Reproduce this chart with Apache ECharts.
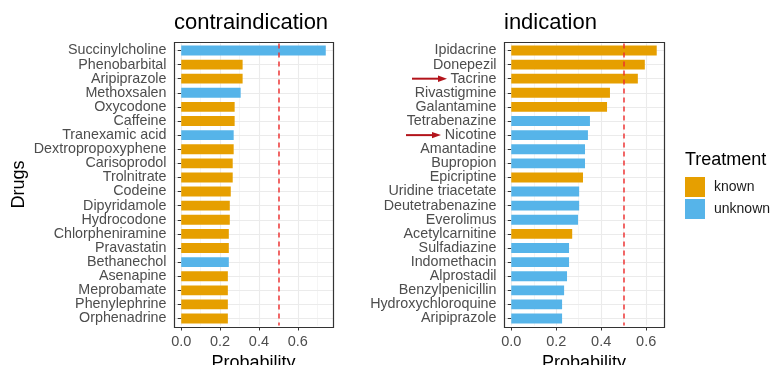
<!DOCTYPE html>
<html>
<head>
<meta charset="utf-8">
<script src="https://cdn.jsdelivr.net/npm/echarts@6/dist/echarts.min.js"></script>
<style>
  html, body { margin: 0; padding: 0; background: #ffffff; }
  #chart { width: 772px; height: 365px; }
</style>
</head>
<body>
<div id="chart"></div>
<script>
// ---- data: predicted probabilities per drug, top 20 per panel ----
const contraDrugs = ['Succinylcholine', 'Phenobarbital', 'Aripiprazole', 'Methoxsalen', 'Oxycodone',
  'Caffeine', 'Tranexamic acid', 'Dextropropoxyphene', 'Carisoprodol', 'Trolnitrate',
  'Codeine', 'Dipyridamole', 'Hydrocodone', 'Chlorpheniramine', 'Pravastatin',
  'Bethanechol', 'Asenapine', 'Meprobamate', 'Phenylephrine', 'Orphenadrine'];
const contraProb = [0.744, 0.316, 0.316, 0.306, 0.275,
  0.275, 0.270, 0.270, 0.265, 0.265,
  0.255, 0.250, 0.250, 0.245, 0.245,
  0.245, 0.240, 0.240, 0.240, 0.240];
const contraTreat = ['unknown', 'known', 'known', 'unknown', 'known',
  'known', 'unknown', 'known', 'known', 'known',
  'known', 'known', 'known', 'known', 'known',
  'unknown', 'known', 'known', 'known', 'known'];

const indDrugs = ['Ipidacrine', 'Donepezil', 'Tacrine', 'Rivastigmine', 'Galantamine',
  'Tetrabenazine', 'Nicotine', 'Amantadine', 'Bupropion', 'Epicriptine',
  'Uridine triacetate', 'Deutetrabenazine', 'Everolimus', 'Acetylcarnitine', 'Sulfadiazine',
  'Indomethacin', 'Alprostadil', 'Benzylpenicillin', 'Hydroxychloroquine', 'Aripiprazole'];
const indProb = [0.647, 0.594, 0.563, 0.439, 0.426,
  0.350, 0.341, 0.328, 0.328, 0.319,
  0.302, 0.302, 0.297, 0.271, 0.257,
  0.257, 0.248, 0.235, 0.226, 0.226];
const indTreat = ['known', 'known', 'known', 'known', 'known',
  'unknown', 'unknown', 'unknown', 'unknown', 'known',
  'unknown', 'unknown', 'unknown', 'known', 'unknown',
  'unknown', 'unknown', 'unknown', 'unknown', 'unknown'];

const treatments = ['known', 'unknown'];
const xTicks = [0, 0.2, 0.4, 0.6];
const xMinorTicks = [0.1, 0.3, 0.5, 0.7];
const threshold = 0.5;
const highlighted = ['Tacrine', 'Nicotine'];

// ---- styling ----
const FONT = 'Liberation Sans, Arial, Helvetica, sans-serif';
const COLORS = { known: '#E69F00', unknown: '#56B4E9' };
const GRID_COLOR = '#EBEBEB';
const BORDER_COLOR = '#333333';
const LABEL_COLOR = '#4D4D4D';

const PANEL_TOP = 42, PANEL_BOTTOM = 327;
const panels = [
  { title: 'contraindication', drugs: contraDrugs, probs: contraProb, treat: contraTreat, left: 174, right: 333 },
  { title: 'indication', drugs: indDrugs, probs: indProb, treat: indTreat, left: 504, right: 664 }
];

const chart = echarts.init(document.getElementById('chart'), null, { renderer: 'canvas' });

const grids = [], xAxes = [], yAxes = [], series = [];

panels.forEach((p, i) => {
  const n = p.drugs.length;
  // discrete scale padded by 0.6 of a row on each side
  const rowH = (PANEL_BOTTOM - PANEL_TOP) / (n - 1 + 1.2);
  const gridTop = PANEL_TOP + 0.1 * rowH;
  const maxV = Math.max(...p.probs);
  const lo = -0.05 * maxV, hi = 1.05 * maxV;

  grids.push({
    left: p.left, width: p.right - p.left, top: gridTop, height: n * rowH,
    containLabel: false, outerBoundsMode: 'none'
  });

  xAxes.push({
    type: 'value', gridIndex: i, min: lo, max: hi,
    offset: PANEL_BOTTOM - (gridTop + n * rowH),
    axisLine: { show: false },
    axisTick: { show: true, length: 3.5, customValues: xTicks, lineStyle: { color: BORDER_COLOR, width: 1 } },
    axisLabel: {
      customValues: xTicks, formatter: v => v.toFixed(1),
      color: LABEL_COLOR, fontSize: 14.5, fontFamily: FONT, margin: 7
    },
    splitLine: { show: false },
    name: 'Probability', nameLocation: 'middle', nameGap: 21,
    nameTextStyle: { fontSize: 18, fontFamily: FONT, color: '#000000' }
  });

  yAxes.push({
    type: 'category', gridIndex: i, data: p.drugs, inverse: true,
    axisLine: { show: false },
    axisTick: { show: true, alignWithLabel: true, length: 3.5, lineStyle: { color: BORDER_COLOR, width: 1 } },
    axisLabel: { interval: 0, color: LABEL_COLOR, fontSize: 14.3, fontFamily: FONT, margin: 7.5 },
    splitLine: { show: false }
  });

  // background grid lines (major + minor verticals, horizontals through each row)
  const glData = [];
  xTicks.filter(v => v <= hi).forEach(v => glData.push({ xAxis: v, lineStyle: { color: GRID_COLOR, width: 1.1, type: 'solid' } }));
  xMinorTicks.filter(v => v <= hi).forEach(v => glData.push({ xAxis: v, lineStyle: { color: '#F2F2F2', width: 0.8, type: 'solid' } }));
  p.drugs.forEach((d, j) => glData.push({ yAxis: j, lineStyle: { color: GRID_COLOR, width: 1.1, type: 'solid' } }));
  series.push({
    type: 'line', name: 'grid' + i, xAxisIndex: i, yAxisIndex: i, data: [], z: 0,
    silent: true, animation: false,
    markLine: { z: 0, silent: true, animation: false, symbol: ['none', 'none'], label: { show: false }, data: glData }
  });

  treatments.forEach(t => {
    series.push({
      type: 'bar', name: t, xAxisIndex: i, yAxisIndex: i,
      data: p.probs.map((v, j) => (p.treat[j] === t ? v : '-')),
      barWidth: '70%', barGap: '-100%',
      itemStyle: { color: COLORS[t] },
      z: 2, animation: false
    });
  });

  // decision threshold
  series.push({
    type: 'line', name: 'threshold' + i, xAxisIndex: i, yAxisIndex: i, data: [], z: 5,
    silent: true, animation: false,
    markLine: {
      z: 6, silent: true, animation: false, symbol: ['none', 'none'], label: { show: false },
      lineStyle: { color: '#EE2C2C', width: 1.5, type: [5, 4], opacity: 0.95 },
      data: [{ xAxis: threshold }]
    }
  });
});

const baseGraphic = [];
panels.forEach((p, i) => {
  baseGraphic.push({
    type: 'rect', id: 'border' + i, z: 10, silent: true,
    shape: { x: p.left + 0.5, y: PANEL_TOP + 0.5, width: p.right - p.left, height: PANEL_BOTTOM - PANEL_TOP },
    style: { fill: 'none', stroke: BORDER_COLOR, lineWidth: 1.2 }
  });
  baseGraphic.push({
    type: 'text', id: 'title' + i, left: p.left, top: 12, silent: true,
    style: { text: p.title, fontSize: 22, fontFamily: FONT, fill: '#000000' }
  });
});
baseGraphic.push({
  type: 'text', id: 'ylab', x: 19, y: (PANEL_TOP + PANEL_BOTTOM) / 2, rotation: Math.PI / 2, silent: true,
  style: { text: 'Drugs', fontSize: 18, fontFamily: FONT, fill: '#000000', align: 'center', verticalAlign: 'middle' }
});
baseGraphic.push({
  type: 'text', id: 'legendTitle', left: 685, top: 151, silent: true,
  style: { text: 'Treatment', fontSize: 18, fontFamily: FONT, fill: '#000000' }
});

chart.setOption({
  animation: false,
  backgroundColor: '#ffffff',
  grid: grids,
  xAxis: xAxes,
  yAxis: yAxes,
  legend: {
    data: treatments, orient: 'vertical', left: 685, top: 177, padding: 0,
    itemWidth: 20, itemHeight: 20, itemGap: 2, icon: 'rect',
    selectedMode: false,
    textStyle: { fontSize: 14, fontFamily: FONT, color: '#1A1A1A', padding: [0, 0, 0, 4] }
  },
  series: series,
  graphic: baseGraphic
});

// annotation arrows pointing at highlighted drug labels in the indication panel
const arrowX = { Tacrine: [412, 447], Nicotine: [406, 441] };
const arrows = [];
highlighted.forEach(name => {
  const y = chart.convertToPixel({ yAxisIndex: 1 }, name);
  const [x0, x1] = arrowX[name];
  const headLen = 9;
  arrows.push({
    type: 'line', id: 'arrowLine' + name, silent: true, z: 10,
    shape: { x1: x0, y1: y, x2: x1 - headLen + 1, y2: y },
    style: { stroke: '#B3141B', lineWidth: 2 }
  });
  arrows.push({
    type: 'polygon', id: 'arrowHead' + name, silent: true, z: 10,
    shape: { points: [[x1, y], [x1 - headLen, y - 3.2], [x1 - headLen, y + 3.2]] },
    style: { fill: '#B3141B' }
  });
});
chart.setOption({ graphic: baseGraphic.concat(arrows) });
</script>
</body>
</html>
